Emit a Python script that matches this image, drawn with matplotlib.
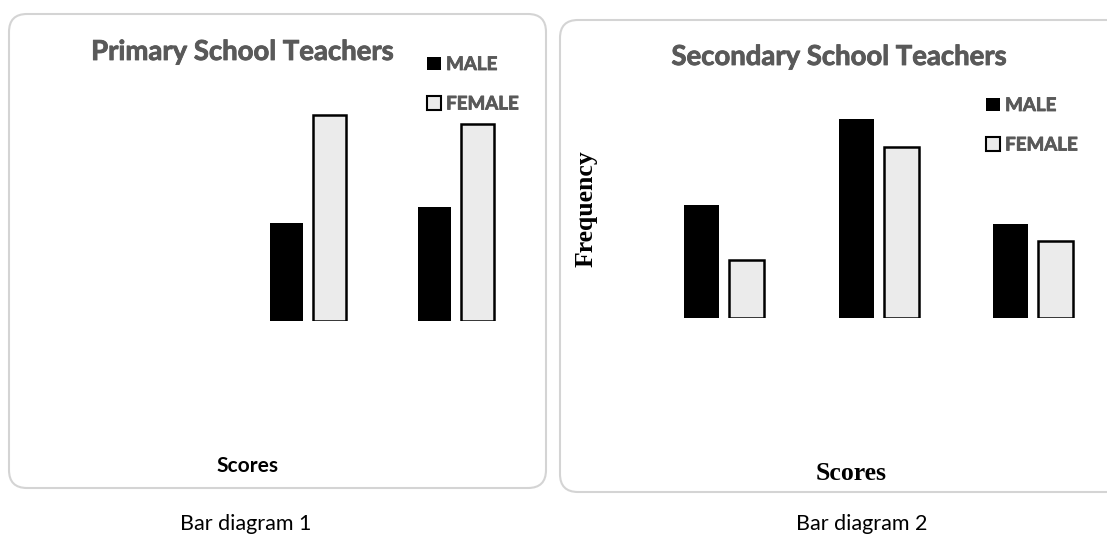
import matplotlib
matplotlib.use("Agg")
import matplotlib.pyplot as plt
import matplotlib.patheffects as pe
from matplotlib.patches import FancyBboxPatch
from matplotlib.transforms import IdentityTransform

# score groups (no tick labels are shown in the original)
score_groups = ["Low", "Average", "High"]

primary_male = [0, 9.8, 11.4]
primary_female = [0, 20.6, 19.7]

secondary_male = [11.3, 19.9, 9.4]
secondary_female = [5.8, 17.1, 7.7]

W, H = 1107, 535
TITLE_GREY = "#595959"
FEMALE_FILL = "#ebebeb"
# the gray headings in the original are a bit heavier than Lato Bold
THICK = [pe.withStroke(linewidth=0.6, foreground=TITLE_GREY)]


def fx(px):
    return px / W


def fy(py):
    return 1 - py / H


def _panel_box(fig, x0, y0, x1, y1):
    # rounded frame, drawn in pixel units so corners stay round
    box = FancyBboxPatch((x0, H - y1), x1 - x0, y1 - y0,
                         boxstyle="round,pad=0,rounding_size=18",
                         transform=IdentityTransform(),
                         facecolor="white", edgecolor="#d4d4d4", linewidth=1.5,
                         zorder=0)
    fig.add_artist(box)


def _bars(fig, rect, male, female, ymax, width=0.225, off=0.145):
    ax = fig.add_axes(rect)
    ax.patch.set_alpha(0)
    x = list(range(len(score_groups)))
    m = ax.bar([i - off for i in x], male, width, color="black",
               edgecolor="black", linewidth=0, label="MALE")
    # no outline on empty bars
    f = ax.bar([i + off for i in x], female, width, color=FEMALE_FILL,
               edgecolor="black", linewidth=[1.8 if v > 0 else 0 for v in female],
               label="FEMALE")
    ax.set_xlim(-0.5, len(x) - 0.5)
    ax.set_ylim(0, ymax)
    ax.axis("off")
    return ax, m, f


def _legend(fig, ax, m, f, px, py):
    leg = ax.legend([m, f], ["MALE", "FEMALE"], loc="upper left",
                    bbox_to_anchor=(fx(px), fy(py)),
                    bbox_transform=fig.transFigure, frameon=False,
                    prop={"family": "Lato", "weight": "bold", "size": 13.5},
                    labelcolor=TITLE_GREY, handlelength=0.72,
                    handleheight=0.72, handletextpad=0.3,
                    labelspacing=1.2, borderpad=0, borderaxespad=0)
    leg.legend_handles[1].set_linewidth(1.5)
    for t in leg.get_texts():
        t.set_path_effects(THICK)
    return leg


def draw():
    fig = plt.figure(figsize=(W / 100, H / 100), dpi=100)

    _panel_box(fig, 9, 14, 546, 488)
    _panel_box(fig, 560, 20, 1125, 492)

    # Bar diagram 1
    ax1, m1, f1 = _bars(fig, [fx(86), fy(321), fx(530) - fx(86), (321 - 100) / H],
                        primary_male, primary_female, 22.1)
    _legend(fig, ax1, m1, f1, 427, 56)
    fig.text(fx(242), fy(60), "Primary School Teachers", ha="center",
             va="baseline", family="Lato", weight="bold", size=19.8,
             color=TITLE_GREY, path_effects=THICK)
    fig.text(fx(247), fy(472), "Scores", ha="center", va="baseline",
             family="Lato", weight="bold", size=15)
    fig.text(fx(246), fy(530), "Bar diagram 1", ha="center", va="baseline",
             family="Lato", size=15.5)

    # Bar diagram 2
    ax2, m2, f2 = _bars(fig, [fx(647), fy(317.5), fx(1110.5) - fx(647), (317.5 - 100) / H],
                        secondary_male, secondary_female, 21.75)
    _legend(fig, ax2, m2, f2, 986, 97)
    fig.text(fx(838.5), fy(65), "Secondary School Teachers", ha="center",
             va="baseline", family="Lato", weight="bold", size=19.8,
             color=TITLE_GREY, path_effects=THICK)
    fig.text(fx(851.5), fy(480), "Scores", ha="center", va="baseline",
             family="Liberation Serif", weight="bold", size=18.5)
    fig.text(fx(586), fy(208.5), "Frequency", ha="center", va="center",
             rotation=90, family="Liberation Serif", weight="bold", size=18.5)
    fig.text(fx(862), fy(530), "Bar diagram 2", ha="center", va="baseline",
             family="Lato", size=15.5)

    fig.savefig("out.png", dpi=100)


if __name__ == "__main__":
    draw()
